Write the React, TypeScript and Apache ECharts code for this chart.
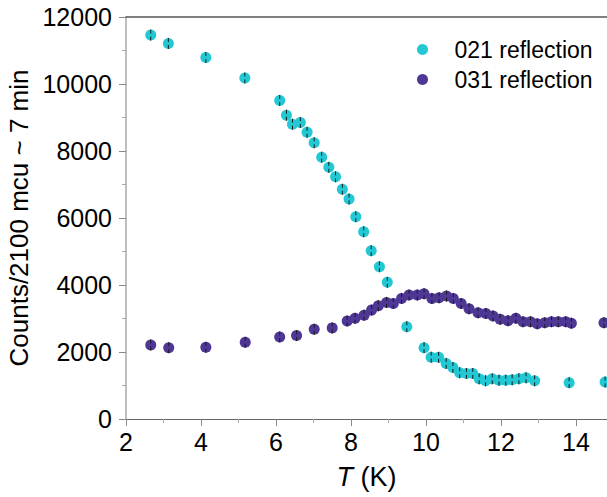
import React, { useEffect, useRef } from "react";
import * as echarts from "echarts";

const seriesNames = ["021 reflection", "031 reflection"];

const tempK021 = [2.66, 3.13, 4.13, 5.17, 6.10, 6.28, 6.44, 6.65, 6.83, 7.02, 7.22, 7.41, 7.59, 7.77, 7.95, 8.13, 8.34, 8.54, 8.76, 8.97, 9.49, 9.95, 10.14, 10.34, 10.54, 10.72, 10.90, 11.08, 11.25, 11.42, 11.59, 11.77, 11.95, 12.13, 12.30, 12.48, 12.67, 12.90, 13.82, 14.78];
const counts021 = [11460, 11210, 10790, 10180, 9510, 9070, 8800, 8850, 8560, 8245, 7815, 7513, 7230, 6856, 6567, 6039, 5591, 5024, 4546, 4080, 2755, 2130, 1845, 1840, 1660, 1540, 1380, 1360, 1360, 1200, 1140, 1200, 1160, 1160, 1170, 1200, 1230, 1140, 1085, 1104];

const tempK031 = [2.66, 3.14, 4.13, 5.18, 6.10, 6.55, 7.02, 7.50, 7.90, 8.11, 8.35, 8.55, 8.73, 8.95, 9.13, 9.35, 9.55, 9.77, 9.95, 10.16, 10.35, 10.55, 10.73, 10.94, 11.15, 11.39, 11.60, 11.79, 11.98, 12.19, 12.40, 12.59, 12.79, 12.97, 13.17, 13.35, 13.53, 13.73, 13.88, 14.75];
const counts031 = [2210, 2130, 2140, 2290, 2450, 2490, 2680, 2720, 2925, 3005, 3100, 3250, 3380, 3480, 3450, 3600, 3700, 3700, 3740, 3600, 3620, 3670, 3600, 3450, 3290, 3170, 3150, 3075, 2975, 2935, 3005, 2905, 2905, 2840, 2875, 2905, 2905, 2905, 2860, 2875];

const yTicks = [0, 2000, 4000, 6000, 8000, 10000, 12000];
const xTicks = [2, 4, 6, 8, 10, 12, 14];

const COLORS = ["#22c8d3", "#4f3796"];
const FONT = "Liberation Sans, Arial, sans-serif";

export default function App() {
  const ref = useRef<HTMLDivElement>(null);
  useEffect(() => {
    document.body.style.margin = "0";
    const chart = echarts.init(ref.current!, null, { renderer: "svg" });
    const d021 = tempK021.map((t, i) => [t, counts021[i]]);
    const d031 = tempK031.map((t, i) => [t, counts031[i]]);

    const errRender = (params: any, api: any) => {
      const p = api.coord([api.value(0), api.value(1)]);
      const st = { stroke: "#1a1a1a", lineWidth: 1 };
      return {
        type: "group",
        children: [
          { type: "line", shape: { x1: p[0], y1: p[1] - 5.5, x2: p[0], y2: p[1] - 1.5 }, style: st },
          { type: "line", shape: { x1: p[0], y1: p[1] + 1.5, x2: p[0], y2: p[1] + 5.5 }, style: st },
        ],
      };
    };

    chart.setOption({
      animation: false,
      textStyle: { fontFamily: FONT, color: "#000" },
      grid: { left: 126, top: 17, right: 0, bottom: 78, containLabel: false, outerBoundsMode: "none" },
      legend: {
        data: seriesNames,
        orient: "vertical",
        left: 412,
        top: 33,
        icon: "circle",
        itemWidth: 54,
        itemHeight: 11,
        itemGap: 7,
        textStyle: { fontFamily: FONT, fontSize: 23, color: "#000" },
      },
      xAxis: [
        {
          type: "value",
          min: xTicks[0],
          max: 14.83,
          interval: 2,
          name: "{i|T} (K)",
          nameLocation: "middle",
          nameGap: 44,
          nameTextStyle: {
            fontFamily: FONT,
            fontSize: 27,
            color: "#000",
            rich: {
              i: { fontFamily: FONT, fontSize: 27, fontStyle: "italic", color: "#000" },
            },
          },
          axisLine: { show: true, lineStyle: { color: "#666", width: 1.2 } },
          axisTick: { show: true, inside: false, length: 7, lineStyle: { color: "#888" } },
          minorTick: { show: true, splitNumber: 2, length: 4, lineStyle: { color: "#aaa" } },
          axisLabel: { fontFamily: FONT, fontSize: 25, color: "#000", margin: 10, showMaxLabel: false },
          splitLine: { show: false },
        },
        {
          type: "value",
          position: "top",
          min: xTicks[0],
          max: 14.83,
          interval: 2,
          axisLine: { show: true, onZero: false, lineStyle: { color: "#555", width: 1.5 } },
          axisTick: { show: false },
          axisLabel: { show: false },
          splitLine: { show: false },
        },
      ],
      yAxis: {
        type: "value",
        min: yTicks[0],
        max: yTicks[yTicks.length - 1],
        interval: 2000,
        name: "Counts/2100 mcu ~ 7 min",
        nameLocation: "middle",
        nameGap: 86,
        nameTextStyle: { fontFamily: FONT, fontSize: 26, color: "#000" },
        axisLine: { show: true, lineStyle: { color: "#aaa", width: 1.5 } },
        axisTick: { show: true, inside: false, length: 7, lineStyle: { color: "#888" } },
        minorTick: { show: true, splitNumber: 2, length: 4, lineStyle: { color: "#aaa" } },
        axisLabel: { fontFamily: FONT, fontSize: 25, color: "#000", margin: 14, formatter: (v: number) => String(v) },
        splitLine: { show: false },
      },
      series: [
        {
          name: seriesNames[0],
          type: "scatter",
          data: d021,
          symbol: "circle",
          symbolSize: 11,
          itemStyle: { color: COLORS[0], opacity: 1 },
          z: 2,
        },
        {
          name: seriesNames[1],
          type: "scatter",
          data: d031,
          symbol: "circle",
          symbolSize: 11,
          itemStyle: { color: COLORS[1], opacity: 1 },
          z: 2,
        },
        {
          name: "err021",
          type: "custom",
          data: d021,
          renderItem: errRender,
          z: 3,
          silent: true,
        },
        {
          name: "err031",
          type: "custom",
          data: d031,
          renderItem: errRender,
          z: 3,
          silent: true,
        },
      ],
    });
    return () => chart.dispose();
  }, []);
  return <div ref={ref} style={{ width: 607, height: 497 }} />;
}
